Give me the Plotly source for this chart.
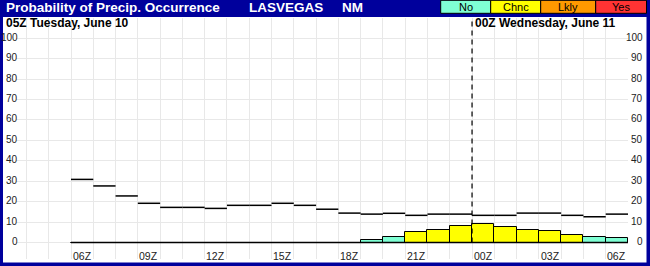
import plotly.graph_objects as go

# ---------------- data ----------------
hours = ["06Z", "07Z", "08Z", "09Z", "10Z", "11Z", "12Z", "13Z", "14Z", "15Z",
         "16Z", "17Z", "18Z", "19Z", "20Z", "21Z", "22Z", "23Z", "00Z", "01Z",
         "02Z", "03Z", "04Z", "05Z", "06Z"]
pop = [0, 0, 0, 0, 0, 0, 0, 0, 0, 0, 0, 0, 0,
       1.2, 2.7, 5.1, 6.0, 7.9, 8.9, 7.4, 6.0, 5.5, 3.5, 2.5, 2.1]
pop_cat = ["No"] * 15 + ["Chnc"] * 8 + ["No"] * 2
step_line = [30.9, 27.7, 22.8, 19.2, 17.2, 17.2, 16.7, 18.2, 18.2, 19.2,
             18.2, 16.3, 14.4, 13.9, 14.3, 13.3, 13.9, 13.9, 13.3, 13.3,
             14.4, 14.4, 13.3, 12.6, 13.9]
ytick_vals = [0, 10, 20, 30, 40, 50, 60, 70, 80, 90, 100]
legend_cats = ["No", "Chnc", "Lkly", "Yes"]
legend_colors = {"No": "#7FFFD4", "Chnc": "#FFFF00", "Lkly": "#FF9900", "Yes": "#FF3333"}
title_text = "Probability of Precip. Occurrence"
station = "LASVEGAS"
state = "NM"
day1_label = "05Z Tuesday, June 10"
day2_label = "00Z Wednesday, June 11"
day2_start = "00Z"

W, H = 650, 266
NAVY = "#00009C"
FONT = "Liberation Sans, Arial, sans-serif"

n = len(hours)
xs = list(range(n))

fig = go.Figure()

# bars
fig.add_trace(go.Bar(
    x=xs, y=pop, width=1,
    marker=dict(color=[legend_colors[c] for c in pop_cat],
                line=dict(color="black", width=1)),
    showlegend=False, hoverinfo="skip"))

# baseline at 0
fig.add_trace(go.Scatter(x=[-0.5, n - 0.5], y=[0, 0], mode="lines",
                         line=dict(color="black", width=1.5),
                         showlegend=False, hoverinfo="skip"))

# step segments
sx, sy = [], []
for i, v in enumerate(step_line):
    sx += [i - 0.5, i + 0.5, None]
    sy += [v, v, None]
fig.add_trace(go.Scatter(x=sx, y=sy, mode="lines",
                         line=dict(color="black", width=1.5),
                         showlegend=False, hoverinfo="skip"))

# day-change dashed line
dchg = hours.index(day2_start) - 0.5
fig.add_trace(go.Scatter(x=[dchg, dchg], y=[0, 110], mode="lines",
                         line=dict(color="black", width=1.2, dash="5px,4px"),
                         showlegend=False, hoverinfo="skip"))

# plot area geometry
l_px, r_px, t_px, b_px = 16, 628, 18, 259
px_per_slot = 22.28
x_right = n - 0.5
x_left = x_right - (r_px - l_px) / px_per_slot
y0_px, px_per_unit = 242.5, 2.042
y_top = (y0_px - t_px) / px_per_unit
y_bot = (y0_px - b_px) / px_per_unit

boundaries = [i - 0.5 for i in range(-2, n + 1)]

fig.update_layout(
    width=W, height=H,
    margin=dict(l=l_px, r=W - r_px, t=t_px, b=H - b_px, pad=0),
    paper_bgcolor=NAVY, plot_bgcolor="white",
    bargap=0, showlegend=False,
    xaxis=dict(range=[x_left, x_right], showticklabels=False, showgrid=False,
               zeroline=False, ticks="", fixedrange=True,
               minor=dict(tickvals=boundaries, showgrid=True,
                          gridcolor="#E8E8E8", gridwidth=1)),
    yaxis=dict(range=[y_bot, y_top], tickvals=ytick_vals, showticklabels=False,
               showgrid=True, gridcolor="#E8E8E8", gridwidth=1,
               zeroline=False, ticks="", fixedrange=True),
)

shapes = []
# white body
shapes.append(dict(type="rect", xref="paper", yref="paper",
                   x0=(3 - l_px) / (r_px - l_px), x1=(646.5 - l_px) / (r_px - l_px),
                   y0=-(262.5 - b_px) / (b_px - t_px), y1=1 + (t_px - 17) / (b_px - t_px),
                   fillcolor="white", line=dict(width=0), layer="below"))

annotations = []


def px_x(p):
    return (p - l_px) / (r_px - l_px)


def px_y(p):
    return (b_px - p) / (b_px - t_px)


# legend boxes
edges = [440.7, 490.7, 540.7, 595.7, 646.5]
for i, c in enumerate(legend_cats):
    shapes.append(dict(type="rect", xref="paper", yref="paper",
                       x0=px_x(edges[i]), x1=px_x(edges[i + 1]),
                       y0=px_y(13.3), y1=px_y(0.3),
                       fillcolor=legend_colors[c], line=dict(color="black", width=1),
                       layer="above"))
    annotations.append(dict(x=px_x((edges[i] + edges[i + 1]) / 2), y=px_y(7),
                            xref="paper", yref="paper", text=c, showarrow=False,
                            xanchor="center", yanchor="middle",
                            font=dict(family=FONT, size=11, color="black")))

# title bar texts
for txt, x in [(title_text, 4), (station, 247), (state, 340)]:
    annotations.append(dict(x=px_x(x), y=px_y(7.5), xref="paper", yref="paper",
                            text="<b>%s</b>" % txt, showarrow=False,
                            xanchor="left", yanchor="middle",
                            font=dict(family=FONT, size=13.5, color="white")))

# day labels
annotations.append(dict(x=px_x(4), y=px_y(23), xref="paper", yref="paper",
                        text="<b>%s</b>" % day1_label, showarrow=False,
                        xanchor="left", yanchor="middle",
                        font=dict(family=FONT, size=12, color="black")))
annotations.append(dict(x=dchg, y=px_y(23), xref="x", yref="paper",
                        text="<b>%s</b>" % day2_label, showarrow=False,
                        xanchor="left", yanchor="middle", xshift=1,
                        font=dict(family=FONT, size=12, color="black")))

# y tick labels both sides
for v in ytick_vals:
    for xp in (19.5, 645.5):
        annotations.append(dict(x=px_x(xp), y=v, xref="paper", yref="y",
                                text=str(v), showarrow=False,
                                xanchor="right", yanchor="middle", yshift=1,
                                font=dict(family=FONT, size=10, color="#222222")))

# x tick labels every 3 hours
for i in range(0, n, 3):
    annotations.append(dict(x=i, y=px_y(255.7), xref="x", yref="paper",
                            text=hours[i], showarrow=False,
                            xanchor="center", yanchor="middle",
                            font=dict(family=FONT, size=10.5, color="#222222")))

fig.update_layout(shapes=shapes, annotations=annotations)
fig.write_html("out.html")
